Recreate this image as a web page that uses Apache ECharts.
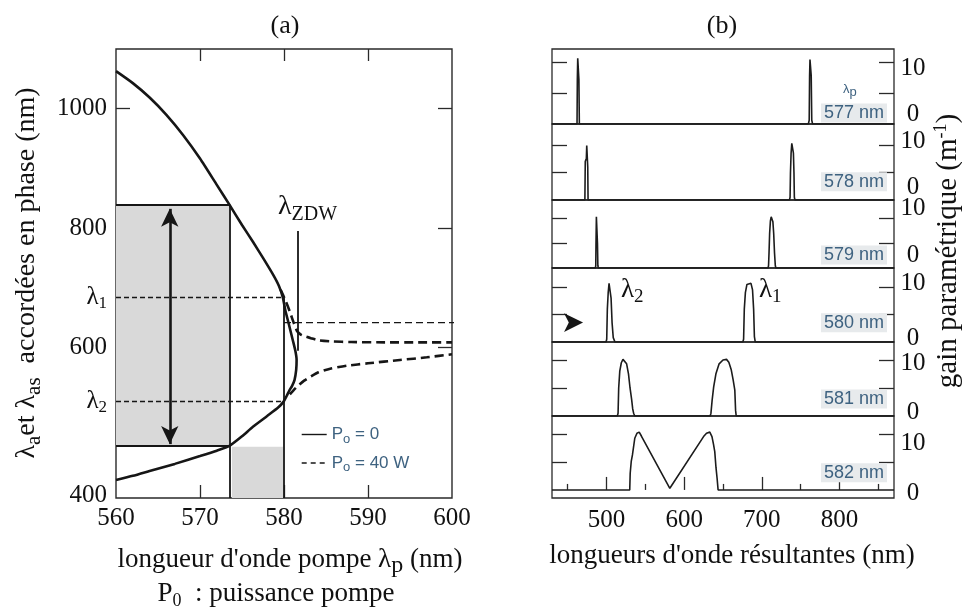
<!DOCTYPE html>
<html><head><meta charset="utf-8">
<script src="https://cdn.jsdelivr.net/npm/echarts@6/dist/echarts.min.js"></script>
<style>html,body{margin:0;padding:0;background:#fff}#c{width:962px;height:611px}</style>
</head><body><div id="c"></div>
<script>
// ---------- data: panel (a) ----------
const pumpTicks = [560, 570, 580, 590, 600];
const pumpInnerTicks = [570, 580, 590];
const phaseTicks = [600, 800, 1000];
const phaseRange = [349, 1099];
const phaseBottomLabel = '400';
const lambda1 = 684;
const lambda2 = 510;
const zdwPump = 581.6;
const bandPump = [560, 573.5];
const bandPhase = [436, 839];
const arrowPhase = 642;
const solidP0 = [[560,1062],[562,1042],[564,1018],[566,989],[568,955],[570,916],[572,872],[573.5,839],[575,805],[576.3,777],[577.5,750],[578.7,722],[579.4,703],[579.86,684],[580.15,663],[580.6,638],[581.04,613],[581.35,595],[581.5,580],[581.45,563],[581.25,546],[580.95,536],[580.65,529],[580.3,519],[579.95,510],[579.3,500],[578,486],[576.3,468],[575,452],[573.5,436],[572,428],[570,419],[567,406],[564,394],[562,386],[560,379]];
const dashedP40Upper = [[579.6,697],[580.2,678],[580.7,660],[581.15,642],[581.55,628],[582.0,622],[582.5,619],[583.2,616],[584.1,612.5],[585.8,610.5],[588,609.5],[592,609],[596,609],[600,609]];
const dashedP40Lower = [[580.7,522],[581.2,530],[581.8,538],[582.4,545],[583.2,552],[584.1,559],[585.5,565],[587.5,570],[590,574],[593.8,579.5],[597,584],[600,589]];

// ---------- data: panel (b) ----------
const resultTicks = [500, 600, 700, 800];
const resultMinorTicks = [450, 550, 650, 750, 850];
const resultRange = [430, 870];
const gainTicks = [5, 10];
const gainLabels = [0, 10];
const pumpLabels = ['577 nm', '578 nm', '579 nm', '580 nm', '581 nm', '582 nm'];
const gain577 = [[430,0],[462.2,0],[462.6,7.2],[463.1,10.6],[463.8,10.6],[464.6,7.2],[465.2,0],[759.8,0],[760.9,0.6],[761.4,7.8],[761.9,10.4],[763,10.4],[763.5,7.8],[764.2,0.6],[765.3,0],[870,0]];
const gain578 = [[430,0],[472.3,0],[472.8,7],[474.2,7.6],[474.7,9.9],[475.4,9.9],[476,6],[476.4,0],[735.5,0],[736.3,0.5],[736.8,5],[737.6,8.5],[738.5,10.3],[739.6,10.3],[740.6,8.5],[741.3,5],[741.8,0.5],[742.6,0],[870,0]];
const gain579 = [[430,0],[485.8,0],[486.3,0.5],[486.6,5],[487.1,10.3],[487.9,10.3],[488.5,5],[489,0.5],[489.6,0],[708,0],[708.6,0.5],[709.2,3],[710,7],[711,9.5],[712,10.3],[713.2,10.3],[714.2,9.3],[715.2,7],[716.3,3],[717.3,0.5],[718,0],[870,0]];
const gain580 = [[430,0],[499.5,0],[500.4,0.5],[501.2,6],[502.3,9],[503.4,10.7],[505,10.7],[506,8],[507.3,3.5],[508.8,0.8],[511,0],[675.5,0],[676.5,0.5],[677.4,6],[678.8,9],[680.8,10.5],[683,10.7],[686,10.7],[688,9.5],[689.4,6],[690.4,1],[691.5,0],[870,0]];
const gain581 = [[430,0],[514,0],[515,0.5],[515.8,5],[517.2,8],[519.2,9.5],[521.3,10.1],[523.5,10.1],[526,9.3],[528.4,7.5],[530.4,5],[532.4,3],[533.8,1.3],[535,0.5],[536.5,0],[633.5,0],[634.5,0.5],[636,2.8],[638,5.2],[641,7.6],[645,9.3],[650,10],[654.5,10.1],[657.5,9.6],[660.5,8.3],[663,6.5],[665.2,4.6],[666.2,1],[667,0],[870,0]];
const gain582 = [[430,0],[530,0],[530.6,3],[532,5.2],[533.5,6.3],[536.5,9.3],[539.3,10.2],[542.2,10.4],[545,9.7],[581.6,0.3],[625,9.6],[628.8,10.2],[633,10.4],[635.8,9.6],[637.8,8.2],[639.4,6.9],[641,4],[642.4,2.1],[643.7,0],[870,0]];
const gainSeries = [gain577, gain578, gain579, gain580, gain581, gain582];

// ---------- layout / style ----------
const SERIF = 'Liberation Serif';
const SANS = 'Liberation Sans';
const INK = '#161616';
const FRAME = '#2a2a2a';
const BLUE = '#3e6280';
const panelTops = [49, 124, 200, 268, 342, 416];
const panelHeights = [75, 76, 68, 74, 74, 82];
const panelYRange = [[0,12.1],[0,13.8],[0,13.7],[0,13.5],[0,13.2],[-1.45,13.3]];
const tenShift = [6, -3, -10, -4, 3, 9];
const zeroShift = [-10, -13, -13, -4, -4, 3];
const labelPanelY = [113, 181.7, 255, 322.7, 399, 472.7];

function pad(s) { return s > 0 ? [2*s, 0, 0, 0] : [0, 0, -2*s, 0]; }

const grids = [{left:116, top:49, width:336, height:449, show:true, borderColor:FRAME, borderWidth:1.4, backgroundColor:'transparent'}];
panelTops.forEach((t,i)=>grids.push({left:552, top:t, width:342, height:panelHeights[i], show:true, borderColor:FRAME, borderWidth:1.3, backgroundColor:'transparent'}));

const xAxes = [
  {gridIndex:0, type:'value', min:pumpTicks[0], max:pumpTicks[pumpTicks.length-1], position:'bottom',
   axisLine:{show:false}, splitLine:{show:false},
   axisTick:{show:true, inside:true, length:13, customValues:pumpInnerTicks, lineStyle:{color:FRAME, width:1.3}},
   axisLabel:{customValues:pumpTicks, showMinLabel:true, showMaxLabel:true, margin:8, fontFamily:SERIF, fontSize:25, color:'#111'}},
  {gridIndex:0, type:'value', min:pumpTicks[0], max:pumpTicks[pumpTicks.length-1], position:'top',
   axisLine:{show:false}, splitLine:{show:false}, axisLabel:{show:false},
   axisTick:{show:true, inside:true, length:12, customValues:pumpInnerTicks, lineStyle:{color:FRAME, width:1.3}}}
];
for (let i=0;i<6;i++){
  const last = i===5;
  xAxes.push({gridIndex:1+i, type:'value', min:resultRange[0], max:resultRange[1], position:'bottom',
    show:last, axisLine:{show:false}, splitLine:{show:false},
    axisTick:{show:last, inside:true, length:13, customValues:resultTicks, lineStyle:{color:FRAME, width:1.3}},
    axisLabel:{show:last, customValues:resultTicks, margin:10, fontFamily:SERIF, fontSize:25, color:'#111'}});
}
xAxes.push({gridIndex:6, type:'value', min:resultRange[0], max:resultRange[1], position:'bottom',
  axisLine:{show:false}, splitLine:{show:false}, axisLabel:{show:false},
  axisTick:{show:true, inside:true, length:6, customValues:resultMinorTicks, lineStyle:{color:FRAME, width:1.3}}});

const yAxes = [
  {gridIndex:0, type:'value', min:phaseRange[0], max:phaseRange[1], position:'left',
   axisLine:{show:false}, splitLine:{show:false},
   axisTick:{show:true, inside:true, length:14, customValues:phaseTicks, lineStyle:{color:FRAME, width:1.3}},
   axisLabel:{customValues:[phaseRange[0], lambda2, 600, lambda1, 800, 1000], showMinLabel:true, margin:9,
     fontFamily:SERIF, fontSize:25, color:'#111',
     formatter:function(v){
       if (v===phaseRange[0]) return '{b|'+phaseBottomLabel+'}';
       if (v===lambda1) return '{l|λ}{s|1}';
       if (v===lambda2) return '{l|λ}{s|2}';
       return '{n|'+v+'}';
     },
     rich:{n:{fontFamily:SERIF,fontSize:25,color:'#111'}, b:{fontFamily:SERIF,fontSize:25,color:'#111',padding:[0,0,6,0]},
           l:{fontFamily:SERIF,fontSize:25,color:'#111'}, s:{fontFamily:SERIF,fontSize:17,color:'#111',padding:[12,0,0,0]}}}},
  {gridIndex:0, type:'value', min:phaseRange[0], max:phaseRange[1], position:'right',
   axisLine:{show:false}, splitLine:{show:false}, axisLabel:{show:false},
   axisTick:{show:true, inside:true, length:14, customValues:phaseTicks, lineStyle:{color:FRAME, width:1.3}}}
];
for (let i=0;i<6;i++){
  yAxes.push({gridIndex:1+i, type:'value', min:panelYRange[i][0], max:panelYRange[i][1], position:'left',
    axisLine:{show:false}, splitLine:{show:false}, axisLabel:{show:false},
    axisTick:{show:true, inside:true, length:15, customValues:gainTicks, lineStyle:{color:FRAME, width:1.3}}});
  yAxes.push({gridIndex:1+i, type:'value', min:panelYRange[i][0], max:panelYRange[i][1], position:'right',
    axisLine:{show:false}, splitLine:{show:false},
    axisTick:{show:true, inside:true, length:15, customValues:gainTicks, lineStyle:{color:FRAME, width:1.3}},
    axisLabel:{customValues:gainLabels, showMinLabel:true, margin:19, align:'center',
      fontFamily:SERIF, fontSize:25, color:'#111',
      formatter:function(v){ return v===0 ? '{z|0}' : '{t|10}'; },
      rich:{z:{fontFamily:SERIF,fontSize:25,color:'#111',padding:pad(zeroShift[i])},
            t:{fontFamily:SERIF,fontSize:25,color:'#111',padding:pad(tenShift[i])}}}});
}

const series = [];
series.push({type:'line', xAxisIndex:0, yAxisIndex:0, data:[], silent:true, z:1,
  markArea:{silent:true, itemStyle:{color:'#d9d9d9'}, data:[
    [{coord:[bandPump[0], bandPhase[1]]}, {coord:[bandPump[1], bandPhase[0]]}],
    [{coord:[bandPump[1]+0.3, phaseRange[0]]}, {coord:[580-0.1, bandPhase[0]-1.3]}]
  ]}});
series.push({type:'line', xAxisIndex:0, yAxisIndex:0, data:[], silent:true, z:3,
  markLine:{silent:true, symbol:['none','none'], label:{show:false}, lineStyle:{color:INK, width:1.8, type:'solid'}, data:[
    [{coord:[bandPump[0], bandPhase[1]]}, {coord:[bandPump[1], bandPhase[1]]}],
    [{coord:[bandPump[0], bandPhase[0]]}, {coord:[bandPump[1], bandPhase[0]]}],
    [{coord:[bandPump[1], bandPhase[1]]}, {coord:[bandPump[1], phaseRange[0]]}],
    [{coord:[580, lambda1]}, {coord:[580, phaseRange[0]]}],
    [{coord:[zdwPump, 795]}, {coord:[zdwPump, 595]}]
  ]}});
series.push({type:'line', xAxisIndex:0, yAxisIndex:0, data:[], silent:true, z:3,
  markLine:{silent:true, symbol:['none','none'], label:{show:false}, lineStyle:{color:INK, width:1.3, type:[5,3]}, data:[
    [{coord:[pumpTicks[0], lambda1]}, {coord:[580, lambda1]}],
    [{coord:[pumpTicks[0], lambda2]}, {coord:[580, lambda2]}]
  ]}});
series.push({type:'line', xAxisIndex:0, yAxisIndex:0, data:[], silent:true, z:4,
  markLine:{silent:true, symbol:['arrow','arrow'], symbolSize:[13,18], label:{show:false}, lineStyle:{color:INK, width:2.6, type:'solid'}, data:[
    [{coord:[566.4, 439]}, {coord:[566.4, 832]}]
  ]}});
series.push({type:'line', xAxisIndex:0, yAxisIndex:0, clip:false, silent:true, z:4,
  lineStyle:{color:INK, width:1.4, type:[7,4]}, itemStyle:{color:INK}, showSymbol:true,
  data:[{value:[580, arrowPhase], symbol:'none'},
        {value:[615.6, arrowPhase], symbol:'arrow', symbolRotate:-90, symbolSize:[14,19]}]});
series.push({name:'P0 = 0', type:'line', xAxisIndex:0, yAxisIndex:0, data:solidP0, smooth:0.2, symbol:'none', z:5,
  lineStyle:{color:INK, width:2.6}, itemStyle:{color:INK}});
series.push({name:'P0 = 40 W', type:'line', xAxisIndex:0, yAxisIndex:0, data:dashedP40Upper, smooth:0.2, symbol:'none', z:5,
  lineStyle:{color:INK, width:2.6, type:[9,5]}, itemStyle:{color:INK}});
series.push({name:'P0 = 40 W', type:'line', xAxisIndex:0, yAxisIndex:0, data:dashedP40Lower, smooth:0.2, symbol:'none', z:5,
  lineStyle:{color:INK, width:2.6, type:[9,5]}, itemStyle:{color:INK}});
gainSeries.forEach((d,i)=>series.push({type:'line', xAxisIndex:2+i, yAxisIndex:3+2*i, data:d, symbol:'none', z:5,
  lineStyle:{color:'#1c1c1c', width:1.6}, silent:true}));

const sub = (fs, p)=>({fontFamily:SERIF, fontSize:fs, fill:'#111', padding:p});
const graphic = [
  {type:'text', x:285, y:26, style:{text:'(a)', fontFamily:SERIF, fontSize:26, fill:'#111', align:'center', verticalAlign:'middle'}},
  {type:'text', x:722, y:26, style:{text:'(b)', fontFamily:SERIF, fontSize:26, fill:'#111', align:'center', verticalAlign:'middle'}},
  {type:'text', x:27, y:273, rotation:Math.PI/2, style:{text:'{m|λ}{s|a}{m|et λ}{s|as}{m|  accordées en phase (nm)}', align:'center', verticalAlign:'middle',
     rich:{m:{fontFamily:SERIF,fontSize:28,fill:'#111'}, s:sub(21,[14,0,0,0])}}},
  {type:'text', x:948, y:251, rotation:Math.PI/2, style:{text:'{m|gain paramétrique (m}{u|-1}{m|)}', align:'center', verticalAlign:'middle',
     rich:{m:{fontFamily:SERIF,fontSize:29,fill:'#111'}, u:sub(18,[0,0,14,0])}}},
  {type:'text', x:290, y:560, style:{text:"{m|longueur d'onde pompe λ}{s|p}{m| (nm)}", align:'center', verticalAlign:'middle',
     rich:{m:{fontFamily:SERIF,fontSize:27,fill:'#111'}, s:sub(24,[12,0,0,0])}}},
  {type:'text', x:276, y:594, style:{text:'{m|P}{s|0}{m|  : puissance pompe}', align:'center', verticalAlign:'middle',
     rich:{m:{fontFamily:SERIF,fontSize:27,fill:'#111'}, s:sub(18,[14,0,0,0])}}},
  {type:'text', x:732, y:556, style:{text:"longueurs d'onde résultantes (nm)", fontFamily:SERIF, fontSize:27, fill:'#111', align:'center', verticalAlign:'middle'}},
  {type:'text', x:278, y:207, style:{text:'{l|λ}{s|ZDW}', align:'left', verticalAlign:'middle',
     rich:{l:{fontFamily:SERIF,fontSize:28,fill:'#111'}, s:sub(20,[16,0,0,0])}}},
  {type:'text', x:152, y:329, rotation:Math.PI/2, style:{text:'continuum expérimental', fontFamily:SERIF, fontSize:20, fill:'#111', align:'center', verticalAlign:'middle'}},
  {type:'text', x:621, y:290, style:{text:'{l|λ}{s|2}', align:'left', verticalAlign:'middle',
     rich:{l:{fontFamily:SERIF,fontSize:27,fill:'#111'}, s:sub(19,[14,0,0,0])}}},
  {type:'text', x:759, y:290, style:{text:'{l|λ}{s|1}', align:'left', verticalAlign:'middle',
     rich:{l:{fontFamily:SERIF,fontSize:27,fill:'#111'}, s:sub(19,[14,0,0,0])}}},
  {type:'text', x:843, y:89, style:{text:'{l|λ}{s|p}', align:'left', verticalAlign:'middle',
     rich:{l:{fontFamily:SANS,fontSize:13,fill:BLUE}, s:{fontFamily:SANS,fontSize:13,fill:BLUE,padding:[7,0,0,0]}}}}
];
pumpLabels.forEach((t,i)=>graphic.push({type:'text', x:887, y:labelPanelY[i], z:10,
  style:{text:t, fontFamily:SANS, fontSize:18, fill:BLUE, align:'right', verticalAlign:'middle',
         backgroundColor:'#e7eaec', padding:[1,3,0,3]}}));

const option = {
  animation:false,
  backgroundColor:'#fff',
  grid:grids, xAxis:xAxes, yAxis:yAxes, series:series, graphic:graphic,
  legend:{data:[{name:'P0 = 0'}, {name:'P0 = 40 W', lineStyle:{type:[5,4], width:1.4}}],
    orient:'vertical', left:296, top:421, itemWidth:25, itemHeight:14, itemGap:9,
    lineStyle:{width:1.4}, itemStyle:{opacity:0, color:'transparent', borderWidth:0}, selectedMode:false,
    formatter:function(n){ return n==='P0 = 0' ? '{t|P}{s|o}{t| = 0}' : '{t|P}{s|o}{t| = 40 W}'; },
    textStyle:{rich:{t:{fontFamily:SANS,fontSize:17,color:BLUE}, s:{fontFamily:SANS,fontSize:13,color:BLUE,padding:[9,0,0,0]}}}}
};
const chart = echarts.init(document.getElementById('c'), null, {renderer:'canvas'});
chart.setOption(option);
</script></body></html>
